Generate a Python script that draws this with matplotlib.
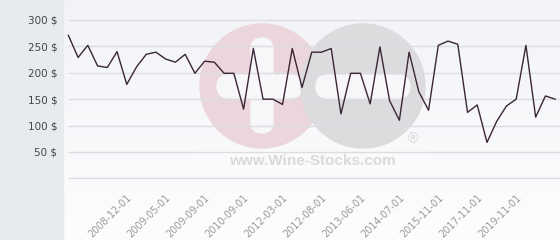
import numpy as np
import matplotlib
matplotlib.use("Agg")
import matplotlib.pyplot as plt
from matplotlib.patches import Circle, FancyBboxPatch, Rectangle

# prices, one per sale
prices = [271, 229, 252, 213, 210, 240, 178, 211, 235, 239,
          226, 220, 235, 199, 222, 220, 199, 199, 131, 246,
          150, 150, 140, 246, 172, 239, 239, 246, 122, 199,
          199, 141, 249, 147, 110, 239, 164, 129, 252, 260,
          254, 125, 139, 68, 108, 137, 150, 252, 116, 156,
          150]

# dates shown on the x axis, every 4th sale starting at the 7th
date_labels = ["2008-12-01", "2009-05-01", "2009-09-01", "2010-09-01",
               "2012-03-01", "2012-08-01", "2013-06-01", "2014-07-01",
               "2015-11-01", "2017-11-01", "2019-11-01"]
label_start = 6
label_step = 4

y_levels = [0, 50, 100, 150, 200, 250, 300]

W, H = 560, 240
fig = plt.figure(figsize=(W / 100, H / 100), dpi=100)

###################################################################################################
# background: grey panel on the left, soft gradient behind the plot, watermark
bg = fig.add_axes([0, 0, 1, 1])
bg.set_xlim(0, W)
bg.set_ylim(H, 0)
bg.axis("off")

grad = np.linspace(0, 1, 100)[:, None]
top = np.array([0.950, 0.955, 0.972])
bot = np.array([0.992, 0.992, 0.996])
img = top + (bot - top) * grad[:, :, None]
bg.imshow(img, extent=[63, W, H, 0], aspect="auto", zorder=0)
bg.add_patch(Rectangle((0, 0), 63, H, color="#e8ebee", zorder=1))

# watermark logo
pink = "#ebd6dc"
grey = "#dcdcde"
hole = "#f7f7fa"
bg.add_patch(Circle((262, 86), 62, color=pink, zorder=2))
bg.add_patch(FancyBboxPatch((217, 75), 85, 23, boxstyle="round,pad=0,rounding_size=11.5",
                            color=hole, zorder=3))
bg.add_patch(FancyBboxPatch((251, 38), 22, 95, boxstyle="round,pad=0,rounding_size=11",
                            color=hole, zorder=3))
bg.add_patch(Circle((363, 86), 62, color=grey, zorder=4))
bg.add_patch(FancyBboxPatch((316, 75), 94, 23, boxstyle="round,pad=0,rounding_size=11.5",
                            color=hole, zorder=5))
bg.add_patch(Rectangle((197, 151), 230, 22, color="white", alpha=0.3, zorder=5))
bg.text(312, 161, "www.Wine-Stocks.com", fontsize=11, fontweight="bold",
        family="Liberation Sans", color="#dadada", ha="center", va="center", zorder=6)
bg.text(413, 139, "®", fontsize=10, family="Liberation Sans", color="#d6d6d8",
        ha="center", va="center", zorder=6)

###################################################################################################
# the price line
ax = fig.add_axes([63 / W, (H - 178.3) / H, (W - 63) / W, 158.3 / H])
ax.set_facecolor("none")
x = np.arange(len(prices))
ax.hlines(y_levels, 0, len(prices) - 0.5, color="#dcdde0", lw=1.0, zorder=1, clip_on=False)
ax.plot(x, prices, color="#3b2634", lw=1.0, zorder=3, clip_on=False)

ax.set_xlim(-0.55, len(prices) - 0.5)
ax.set_ylim(0, 300)

ax.set_yticks(y_levels[1:])
ax.set_yticklabels([f"{v} $" for v in y_levels[1:]], fontsize=7.5, color="#444444")
ticks = [label_start + i * label_step for i in range(len(date_labels))]
ax.set_xticks(ticks)
ax.set_xticklabels(date_labels, fontsize=7, color="#9a9a9a", rotation=45,
                   ha="right", va="top", rotation_mode="anchor")
ax.tick_params(axis="y", length=0, pad=4)
ax.tick_params(axis="x", length=0, pad=10)
for s in ax.spines.values():
    s.set_visible(False)

fig.savefig("out.png", dpi=100)
